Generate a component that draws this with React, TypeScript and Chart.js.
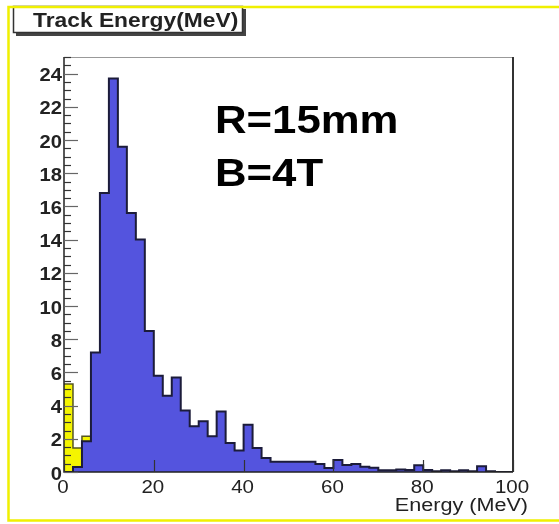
import React, { useEffect, useRef } from 'react';
import { Chart, registerables } from 'chart.js';

Chart.register(...registerables);

// Histogram bin edges (MeV), 2 MeV bins from 0 to 100
const binEdges = [
  0, 2, 4, 6, 8, 10, 12, 14, 16, 18, 20, 22, 24, 26, 28, 30, 32, 34, 36, 38, 40,
  42, 44, 46, 48, 50, 52, 54, 56, 58, 60, 62, 64, 66, 68, 70, 72, 74, 76, 78, 80,
  82, 84, 86, 88, 90, 92, 94, 96, 98, 100,
];

// Blue histogram: contents of each 2 MeV bin
const blueCounts = [
  0, 0.3, 1.85, 7.2, 16.8, 23.7, 19.6, 15.6, 14.0, 8.5,
  5.8, 4.6, 5.7, 3.7, 2.75, 3.05, 2.15, 3.65, 1.75, 1.3,
  2.85, 1.45, 0.85, 0.62, 0.62, 0.62, 0.62, 0.62, 0.48, 0.24,
  0.73, 0.42, 0.48, 0.32, 0.25, 0.1, 0.1, 0.15, 0.12, 0.4,
  0.12, 0.05, 0.1, 0.05, 0.1, 0.05, 0.35, 0.05, 0, 0,
];

// Yellow histogram: first bins only
const yellowCounts = [5.3, 1.45, 2.15];

const xTickValues = [0, 20, 40, 60, 80, 100];
const xTickLabels = ['0', '20', '40', '60', '80', '100'];
const yTickValues = [0, 2, 4, 6, 8, 10, 12, 14, 16, 18, 20, 22, 24];
const yTickLabels = ['0', '2', '4', '6', '8', '10', '12', '14', '16', '18', '20', '22', '24'];

const titleText = 'Track Energy(MeV)';
const xAxisTitle = 'Energy (MeV)';
const noteLines = ['R=15mm', 'B=4T'];

const FONT = '"Liberation Sans", Arial, Helvetica, sans-serif';

function stretchText(
  ctx: CanvasRenderingContext2D,
  text: string,
  x: number,
  y: number,
  font: string,
  sx: number,
  align: 'left' | 'right' | 'center',
  color: string
) {
  ctx.save();
  ctx.font = font;
  ctx.fillStyle = color;
  ctx.textBaseline = 'alphabetic';
  ctx.textAlign = 'left';
  const w = ctx.measureText(text).width * sx;
  const left = align === 'right' ? x - w : align === 'center' ? x - w / 2 : x;
  ctx.translate(left, y);
  ctx.scale(sx, 1);
  ctx.fillText(text, 0, 0);
  ctx.restore();
}

function toSteps(counts: number[]) {
  const pts = [] as { x: number; y: number }[];
  for (let i = 0; i <= counts.length; i++) {
    pts.push({ x: binEdges[i], y: i < counts.length ? counts[i] : 0 });
  }
  return pts;
}

const decorPlugin = {
  id: 'rootDecor',
  afterDraw(chart: any) {
    const ctx: CanvasRenderingContext2D = chart.ctx;
    const xs = chart.scales.x;
    const ys = chart.scales.y;
    const area = chart.chartArea;
    const x0 = area.left;
    const x1 = area.right;
    const y0 = area.bottom;
    const y1 = area.top;

    ctx.save();
    // frame
    ctx.strokeStyle = '#999';
    ctx.lineWidth = 1;
    ctx.beginPath();
    ctx.moveTo(x0, y1 + 0.5);
    ctx.lineTo(x1, y1 + 0.5);
    ctx.stroke();
    ctx.strokeStyle = '#333';
    ctx.lineWidth = 2;
    ctx.beginPath();
    ctx.moveTo(x1, y1);
    ctx.lineTo(x1, y0);
    ctx.stroke();
    ctx.strokeStyle = '#222';
    ctx.lineWidth = 1.5;
    ctx.beginPath();
    ctx.moveTo(x0, y1);
    ctx.lineTo(x0, y0);
    ctx.lineTo(x1, y0);
    ctx.stroke();

    // y ticks (inside), major every 2, minor every 0.5
    ctx.lineWidth = 1.2;
    for (let k = 0; k <= 50; k++) {
      const v = k * 0.5;
      if (v > ys.max) break;
      const py = Math.round(ys.getPixelForValue(v)) + 0.5;
      const major = k % 4 === 0;
      ctx.strokeStyle = major ? '#666' : '#333';
      ctx.beginPath();
      ctx.moveTo(x0, py);
      ctx.lineTo(x0 + (major ? 14 : 7), py);
      ctx.stroke();
    }
    // x ticks (inside)
    ctx.strokeStyle = '#333';
    for (const v of xTickValues) {
      const px = Math.round(xs.getPixelForValue(v)) + 0.5;
      ctx.beginPath();
      ctx.moveTo(px, y0);
      ctx.lineTo(px, y0 - 12);
      ctx.stroke();
    }
    ctx.restore();

    // tick labels
    yTickValues.forEach((v, i) => {
      const py = ys.getPixelForValue(v);
      stretchText(ctx, yTickLabels[i], x0 - 2, py + 7.5, `bold 18px ${FONT}`, 1.12, 'right', '#222');
    });
    xTickValues.forEach((v, i) => {
      const px = xs.getPixelForValue(v);
      stretchText(ctx, xTickLabels[i], px - 1, y0 + 20.5, `18px ${FONT}`, 1.14, 'center', '#222');
    });

    // axis title
    stretchText(ctx, xAxisTitle, 528, 511, `18px ${FONT}`, 1.2, 'right', '#222');

    // annotation text
    stretchText(ctx, noteLines[0], 215, 133, `bold 38px ${FONT}`, 1.15, 'left', '#000');
    stretchText(ctx, noteLines[1], 215, 186, `bold 38px ${FONT}`, 1.15, 'left', '#000');

    // title box with shadow
    ctx.save();
    ctx.fillStyle = '#444';
    ctx.fillRect(16, 9, 230, 27);
    ctx.fillStyle = '#fff';
    ctx.fillRect(13, 6, 230, 27);
    ctx.strokeStyle = '#333';
    ctx.lineWidth = 1.5;
    ctx.strokeRect(13.5, 6.5, 229, 26);
    ctx.restore();
    stretchText(ctx, titleText, 33, 27, `bold 20px ${FONT}`, 1.14, 'left', '#222');

    // yellow outer frame
    ctx.save();
    ctx.strokeStyle = '#f0f000';
    ctx.lineWidth = 2.5;
    ctx.beginPath();
    ctx.moveTo(559, 7);
    ctx.lineTo(8.5, 7);
    ctx.lineTo(8.5, 520.5);
    ctx.lineTo(559, 520.5);
    ctx.stroke();
    ctx.restore();
  },
};

export default function App() {
  const canvasRef = useRef<HTMLCanvasElement | null>(null);

  useEffect(() => {
    const canvas = canvasRef.current;
    if (!canvas) return;
    const chart = new Chart(canvas, {
      type: 'line',
      data: {
        datasets: [
          {
            label: 'yellow',
            data: toSteps(yellowCounts),
            stepped: 'before',
            fill: 'origin',
            backgroundColor: '#f5f500',
            borderColor: '#555522',
            borderWidth: 1.5,
            pointRadius: 0,
            order: 2,
          },
          {
            label: 'blue',
            data: toSteps(blueCounts),
            stepped: 'before',
            fill: 'origin',
            backgroundColor: 'rgb(84,84,222)',
            borderColor: '#1c1c3a',
            borderWidth: 2,
            pointRadius: 0,
            order: 1,
          },
        ],
      },
      options: {
        animation: false,
        responsive: false,
        maintainAspectRatio: false,
        layout: { padding: { left: 0, top: 57, right: 46, bottom: 0 } },
        plugins: {
          legend: { display: false },
          tooltip: { enabled: false },
        },
        scales: {
          x: {
            type: 'linear',
            min: 0,
            max: 100,
            ticks: { display: false },
            grid: { display: false },
            border: { display: false },
            afterFit: (s: any) => {
              s.height = 52;
            },
          },
          y: {
            type: 'linear',
            min: 0,
            max: 25,
            ticks: { display: false },
            grid: { display: false },
            border: { display: false },
            afterFit: (s: any) => {
              s.width = 64;
            },
          },
        },
      },
      plugins: [decorPlugin],
    } as any);
    return () => chart.destroy();
  }, []);

  return (
    <div style={{ position: 'fixed', left: 0, top: 0, width: 559, height: 524, background: '#fff' }}>
      <canvas ref={canvasRef} width={559} height={524} />
    </div>
  );
}
